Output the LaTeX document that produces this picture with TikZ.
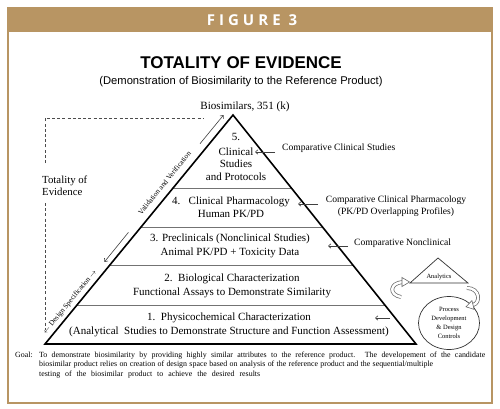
\documentclass[tikz,border=0pt]{standalone}
\usepackage{fontspec}
\setmainfont{Liberation Serif}
\setsansfont{Liberation Sans}
\newfontfamily\headfont[LetterSpace=27]{Open Sans}
\usetikzlibrary{arrows.meta,calc,shapes.geometric}
\definecolor{gold}{RGB}{184,149,99}
\begin{document}
\begin{tikzpicture}[x=1pt,y=-1pt,
  tier/.style={align=center,font=\fontsize{11}{12.5}\selectfont,inner sep=0pt},
  side/.style={font=\fontsize{9.6}{12}\selectfont,inner sep=0pt,align=center},
  ptr/.style={draw=black!75,line width=0.6pt,-{Straight Barb[length=2.5pt,width=4.5pt]}},
  edgetxt/.style={font=\fontsize{7.3}{8}\selectfont,inner sep=0pt,rotate=50.7},
  small/.style={font=\fontsize{6.5}{8.8}\selectfont,inner sep=0pt,align=center},
  divider/.style={draw=black!55,line width=0.8pt},
  dashline/.style={draw=black!70,line width=0.8pt,dash pattern=on 3pt off 2.2pt},
  hollow/.style={draw=black!60,line width=0.6pt,fill=white},
  goalfont/.style={font=\fontsize{7.9}{9.2}\selectfont,inner sep=0pt},
]
\useasboundingbox (0,0) rectangle (500,409);
\fill[white] (0,0) rectangle (500,409);
% frame and header
\draw[gold,line width=2pt] (8,8) rectangle (492,403);
\fill[gold] (8,8) rectangle (492,32);
\node[text=white,font=\headfont\bfseries\fontsize{15}{15}\selectfont] (fig) at (252,20.5) {FIGURE 3};
% titles
\node[font=\sffamily\bfseries\fontsize{17}{18}\selectfont] (title) at (241,63) {TOTALITY OF EVIDENCE};
\node[font=\sffamily\fontsize{11.2}{12}\selectfont] (sub) at (241,82) {(Demonstration of Biosimilarity to the Reference Product)};
\node[font=\fontsize{11.1}{12}\selectfont] (bio) at (245,107) {Biosimilars, 351 (k)};
% pyramid
\coordinate (A) at (233,115);
\coordinate (L) at (45,344);
\coordinate (R) at (416,344);
\foreach \t in {0.681,0.507,0.345,0.170}
  \draw[divider] ($(L)!\t!(A)$) -- ($(R)!\t!(A)$);
\draw[line width=1.6pt,line join=miter] (L) -- (A) -- (R) -- cycle;
% tier texts
\node[tier] (t5) at (236,157) {5.\\[2pt]Clinical\\Studies\\and Protocols};
\node[tier] (t4) at (231,207) {4.\ \ \ Clinical Pharmacology\\Human PK/PD};
\node[tier] (t3) at (230,246) {3. Preclinicals (Nonclinical Studies)\\[2pt]Animal PK/PD + Toxicity Data};
\node[tier] (t2) at (232,286) {2.\ \ Biological Characterization\\[2pt]Functional Assays to Demonstrate Similarity};
\node[tier] (t1) at (229,324.5) {1.\ \ Physicochemical Characterization\\[1.5pt](Analytical\ \ Studies to Demonstrate Structure and Function Assessment)};
% right side labels
\node[side,anchor=west] (l5) at (282,148) {Comparative Clinical Studies};
\node[side] (l4) at (396,206) {Comparative Clinical Pharmacology\\(PK/PD Overlapping Profiles)};
\node[side,anchor=west] (l3) at (354,243) {Comparative Nonclinical};
\coordinate (s5) at (275,152); \coordinate (e5) at (255,152);
\coordinate (s4) at (318,204); \coordinate (e4) at (298,204);
\coordinate (s3) at (348,246); \coordinate (e3) at (328,246);
\coordinate (s1) at (390,318); \coordinate (e1) at (375,318);
\draw[ptr] (s5) -- (e5);
\draw[ptr] (s4) -- (e4);
\draw[ptr] (s3) -- (e3);
\draw[ptr] (s1) -- (e1);
% analytics and process development
\coordinate (ta) at (438,258); \coordinate (tb) at (468,283); \coordinate (tc) at (410,283);
\draw[black!80,line width=0.7pt] (ta) -- (tb) -- (tc) -- cycle;
\node[small] (an) at (439,277) {Analytics};
\node[draw=black!80,line width=0.7pt,ellipse,minimum width=61pt,minimum height=53pt,small] (pd) at (449,323) {Process\\Development\\\& Design\\Controls};
% hollow curved arrows
\draw[black!60,line width=3.8pt] (401,297) .. controls (389,295) and (389,283) .. (403,282);
\draw[white,line width=2.4pt] (401,297) .. controls (389,295) and (389,283) .. (403,282);
\draw[hollow] (409.5,282) -- (402,277.5) -- (402,286.5) -- cycle;
\draw[black!60,line width=3.8pt] (467,288) .. controls (480,288) and (481,303) .. (473,305);
\draw[white,line width=2.4pt] (467,288) .. controls (480,288) and (481,303) .. (473,305);
\draw[hollow] (466,306.8) -- (474.1,309.4) -- (471.9,300.6) -- cycle;
% left side
\coordinate (b1) at (45,163); \coordinate (b2) at (45,118); \coordinate (b3) at (203,118);
\coordinate (b4) at (45,203); \coordinate (b5) at (45,330);
\draw[dashline] (b1) -- (b2) -- (b3);
\draw[dashline] (b4) -- (b5);
\node[font=\fontsize{10.8}{12}\selectfont,align=left,anchor=west,inner sep=0pt] (tot) at (42,186) {Totality of\\Evidence};
\node[edgetxt] (vv) at (164.5,183) {Validation and Verification};
\node[edgetxt] (ds) at (70,302) {$\leftarrow$ Design Specification $\rightarrow$};
\coordinate (u1) at (200,143.7); \coordinate (u2) at (223.5,115.1);
\coordinate (d1) at (128.4,232.4); \coordinate (d2) at (104.4,261.9);
\draw[ptr] (u1) -- (u2);
\draw[ptr] (d1) -- (d2);
% goal
\node[goalfont,anchor=north west] (goal) at (15,352) {Goal:};
\node[goalfont,align=left,anchor=north west] (goaltxt) at (39,352) {\makebox[446pt][s]{To demonstrate biosimilarity by providing highly similar attributes to the reference product. The developement of the candidate}\\\makebox[394pt][s]{biosimilar product relies on creation of design space based on analysis of the reference product and the sequential/multiple}\\\makebox[221pt][s]{testing of the biosimilar product to achieve the desired results}};
\end{tikzpicture}
\end{document}
